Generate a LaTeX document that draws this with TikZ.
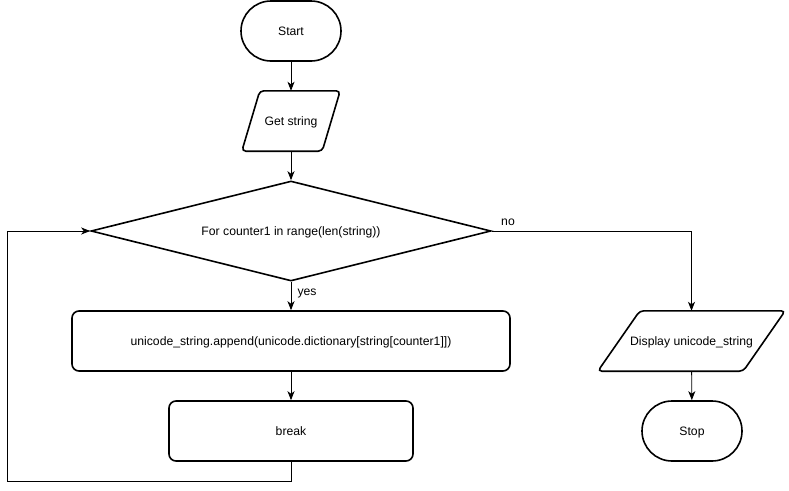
\documentclass[tikz,border=0pt]{standalone}
\usepackage{fontspec}
\setmainfont{Liberation Sans}
\usetikzlibrary{shapes.geometric,arrows.meta}
\begin{document}
\begin{tikzpicture}[x=1pt,y=-1pt,
  font=\fontsize{12.2}{14}\selectfont,
  shapeline/.style={draw=black,line width=1.6pt,fill=white},
  terminal/.style={shapeline,rectangle,rounded corners=30pt,minimum width=100pt,minimum height=60pt,inner sep=0pt},
  process/.style={shapeline,rectangle,rounded corners=7pt,minimum height=60pt,inner sep=0pt},
  iobox/.style={rectangle,minimum height=60pt,inner sep=0pt},
  ioline/.style={shapeline,rounded corners=4pt},
  decision/.style={shapeline,diamond,minimum width=400pt,minimum height=100pt,inner sep=0pt},
  flow/.style={draw=black,line width=0.9pt,-{Stealth[length=9pt,width=7pt,inset=2.5pt]}},
  txt/.style={inner sep=0pt,text height=9pt,text depth=0pt}
]
\useasboundingbox (0,0) rectangle (789,490);

% main column
\node[terminal] (start) at (291,31) {};
\node[txt] (start-t) at (start) {Start};
\node[iobox,minimum width=98pt] (get) at (291,121) {};
\draw[ioline] ([xshift=18pt]get.north west) -- (get.north east)
  -- ([xshift=-18pt]get.south east) -- (get.south west) -- cycle;
\node[txt] (get-t) at (get) {Get string};
\node[decision] (dec) at (291,231) {};
\node[txt] (dec-t) at (dec) {For counter1 in range(len(string))};
\node[process,minimum width=438pt] (app) at (291,341) {};
\node[txt] (app-t) at (app) {unicode\_string.append(unicode.dictionary[string[counter1]])};
\node[process,minimum width=244pt] (brk) at (291,431) {};
\node[txt] (brk-t) at (brk) {break};

% exit column
\node[iobox,minimum width=187pt] (disp) at (691.5,341) {};
\draw[ioline] ([xshift=42pt]disp.north west) -- (disp.north east)
  -- ([xshift=-42pt]disp.south east) -- (disp.south west) -- cycle;
\node[txt] (disp-t) at (disp) {Display unicode\_string};
\node[terminal] (stop) at (692,431) {};
\node[txt] (stop-t) at (stop) {Stop};

% loop return corner
\coordinate (loopc) at (7,481);

% connectors
\draw[flow] (start) -- (get);
\draw[flow] (get) -- (dec);
\draw[flow] (dec.south) -- (app.north);
\draw[flow] (app) -- (brk);
\draw[flow] (brk.south) |- (loopc) |- (dec.west);
\draw[flow] (dec.east) -| (disp.north);
\draw[flow] (disp) -- (stop);

% branch labels
\node[txt] (yes) at (307,291) {yes};
\node[txt] (no) at (508,221) {no};
\end{tikzpicture}
\end{document}
